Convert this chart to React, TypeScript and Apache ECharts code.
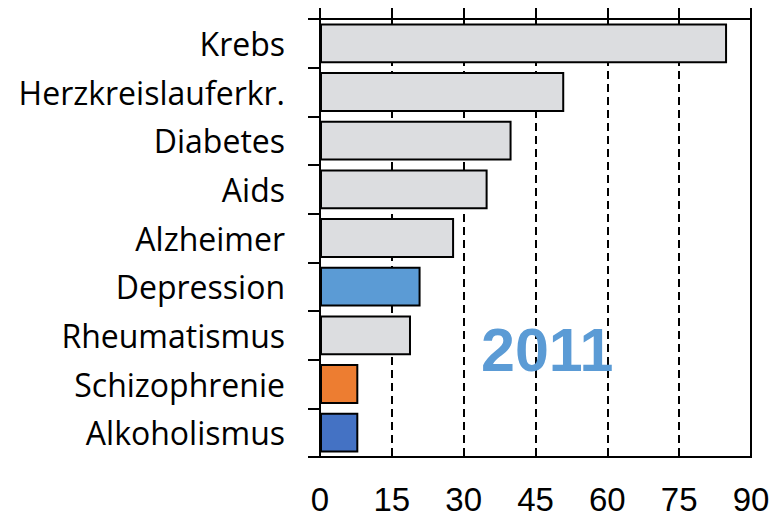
import React, { useEffect, useRef } from "react";
import * as echarts from "echarts";

const categories = [
  "Krebs",
  "Herzkreislauferkr.",
  "Diabetes",
  "Aids",
  "Alzheimer",
  "Depression",
  "Rheumatismus",
  "Schizophrenie",
  "Alkoholismus",
];
const values = [85, 51, 40, 35, 28, 21, 19, 8, 8];
const barColors = [
  "#dcdde0",
  "#dcdde0",
  "#dcdde0",
  "#dcdde0",
  "#dcdde0",
  "#5b9bd5",
  "#dcdde0",
  "#ed7d31",
  "#4472c4",
];
const yearLabel = "2011";

export default function App() {
  const ref = useRef<HTMLDivElement>(null);
  useEffect(() => {
    if (!ref.current) return;
    const chart = echarts.init(ref.current, null, { renderer: "svg" });
    chart.setOption({
      animation: false,
      backgroundColor: "#ffffff",
      grid: {
        left: 320,
        right: 24,
        top: 19,
        bottom: 60,
        show: true,
        borderColor: "#000",
        borderWidth: 2,
        backgroundColor: "transparent",
      },
      xAxis: [
        {
          type: "value",
          position: "bottom",
          min: 0,
          max: 90,
          interval: 15,
          axisLine: { show: true, lineStyle: { color: "#000", width: 2 } },
          axisTick: { show: false },
          axisLabel: {
            color: "#000",
            fontSize: 33,
            lineHeight: 32,
            fontFamily: "Liberation Sans, Arial, sans-serif",
            margin: 26,
          },
          splitLine: {
            show: true,
            lineStyle: { color: "#000", width: 2, type: [8, 5] },
          },
        },
        {
          type: "value",
          position: "top",
          min: 0,
          max: 90,
          interval: 15,
          axisLine: { show: true, lineStyle: { color: "#000", width: 2 } },
          axisTick: {
            show: true,
            inside: false,
            length: 11,
            lineStyle: { color: "#000", width: 2 },
          },
          axisLabel: { show: false },
          splitLine: { show: false },
        },
      ],
      yAxis: {
        type: "category",
        data: categories,
        inverse: true,
        axisLine: { show: true, lineStyle: { color: "#000", width: 2 } },
        axisTick: {
          show: true,
          length: 12,
          lineStyle: { color: "#000", width: 2 },
        },
        axisLabel: {
          color: "#000",
          fontSize: 32,
          fontFamily: "Open Sans, Lato, sans-serif",
          margin: 35,
        },
        splitLine: { show: false },
      },
      series: [
        {
          type: "bar",
          xAxisIndex: 0,
          data: values.map((v, i) => ({
            value: v,
            itemStyle: { color: barColors[i] },
          })),
          barCategoryGap: "18%",
          itemStyle: { borderColor: "#000", borderWidth: 2 },
          z: 3,
        },
      ],
      graphic: [
        {
          type: "text",
          left: 481,
          top: 319,
          z: 10,
          style: {
            text: yearLabel,
            fill: "#5b9bd5",
            fontSize: 61,
            fontWeight: "bold",
            fontFamily: "Liberation Sans, Arial, sans-serif",
          },
        },
      ],
    });
    return () => chart.dispose();
  }, []);
  return (
    <div
      ref={ref}
      style={{ position: "fixed", left: 0, top: 0, width: 775, height: 517 }}
    />
  );
}
